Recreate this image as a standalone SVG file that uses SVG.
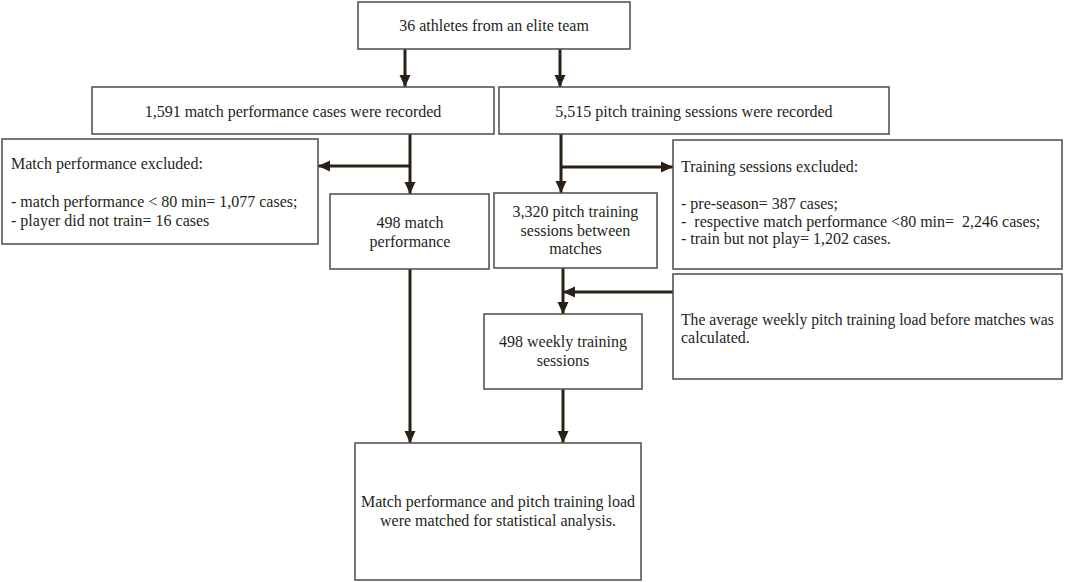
<svg xmlns="http://www.w3.org/2000/svg" width="1065" height="582" viewBox="0 0 1065 582">
<style>
.box{fill:#fff;stroke:#555;stroke-width:1.6}
.t{font-family:"Liberation Serif","Times New Roman",serif;font-size:16px;fill:#231f20}
.c{text-anchor:middle}
.a{stroke:#2a2015;stroke-width:3;fill:none;marker-end:url(#ah)}
</style>
<defs>
<marker id="ah" markerUnits="userSpaceOnUse" markerWidth="12" markerHeight="12" viewBox="0 0 12 12" refX="12" refY="6" orient="auto">
<path d="M0,0.5 L12,6 L0,11.5 Z" fill="#2a2015"/>
</marker>
</defs>
<rect width="1065" height="582" fill="#fff"/>
<g id="connectors">
<line class="a" x1="405" y1="49" x2="405" y2="87"/>
<line class="a" x1="560" y1="49" x2="560" y2="87"/>
<line class="a" x1="410" y1="134" x2="410" y2="194"/>
<line class="a" x1="411" y1="166" x2="318" y2="166"/>
<line class="a" x1="561" y1="134" x2="561" y2="193"/>
<line class="a" x1="560" y1="167" x2="673" y2="167"/>
<line class="a" x1="673" y1="292" x2="563" y2="292"/>
<line class="a" x1="563" y1="268" x2="563" y2="314"/>
<line class="a" x1="563" y1="389" x2="563" y2="443"/>
<line class="a" x1="410" y1="269" x2="410" y2="443"/>
</g>
<g id="n-athletes">
<rect class="box" x="358" y="2" width="272" height="47"/>
<text class="t c" x="494" y="31">36 athletes from an elite team</text>
</g>
<g id="n-match-recorded">
<rect class="box" x="92" y="87" width="402" height="47"/>
<text class="t c" x="293" y="117">1,591 match performance cases were recorded</text>
</g>
<g id="n-training-recorded">
<rect class="box" x="499" y="87" width="390" height="47"/>
<text class="t c" x="694" y="117">5,515 pitch training sessions were recorded</text>
</g>
<g id="n-match-excluded">
<rect class="box" x="2" y="139" width="316" height="105"/>
<text class="t" x="11" y="169">Match performance excluded:</text>
<text class="t" x="11" y="207">- match performance &lt; 80 min= 1,077 cases;</text>
<text class="t" x="11" y="226">- player did not train= 16 cases</text>
</g>
<g id="n-match-498">
<rect class="box" x="330" y="194" width="159" height="75"/>
<text class="t c" x="410" y="228">498 match</text>
<text class="t c" x="410" y="247">performance</text>
</g>
<g id="n-training-3320">
<rect class="box" x="494" y="193" width="163" height="75"/>
<text class="t c" x="575.5" y="217">3,320 pitch training</text>
<text class="t c" x="575.5" y="236">sessions between</text>
<text class="t c" x="575.5" y="254">matches</text>
</g>
<g id="n-training-excluded">
<rect class="box" x="673" y="140" width="389" height="129"/>
<text class="t" x="681" y="172">Training sessions excluded:</text>
<text class="t" x="681" y="209">- pre-season= 387 cases;</text>
<text class="t" x="681" y="227" xml:space="preserve">-  respective match performance &lt;80 min=  2,246 cases;</text>
<text class="t" x="681" y="244">- train but not play= 1,202 cases.</text>
</g>
<g id="n-average">
<rect class="box" x="673" y="274" width="389" height="105"/>
<text class="t" x="681" y="325" style="font-size:15.7px">The average weekly pitch training load before matches was</text>
<text class="t" x="681" y="343">calculated.</text>
</g>
<g id="n-weekly-498">
<rect class="box" x="484" y="314" width="158" height="75"/>
<text class="t c" x="563" y="347">498 weekly training</text>
<text class="t c" x="563" y="366">sessions</text>
</g>
<g id="n-final">
<rect class="box" x="355" y="443" width="286" height="137"/>
<text class="t c" x="498" y="507">Match performance and pitch training load</text>
<text class="t c" x="498" y="526">were matched for statistical analysis.</text>
</g>
</svg>
